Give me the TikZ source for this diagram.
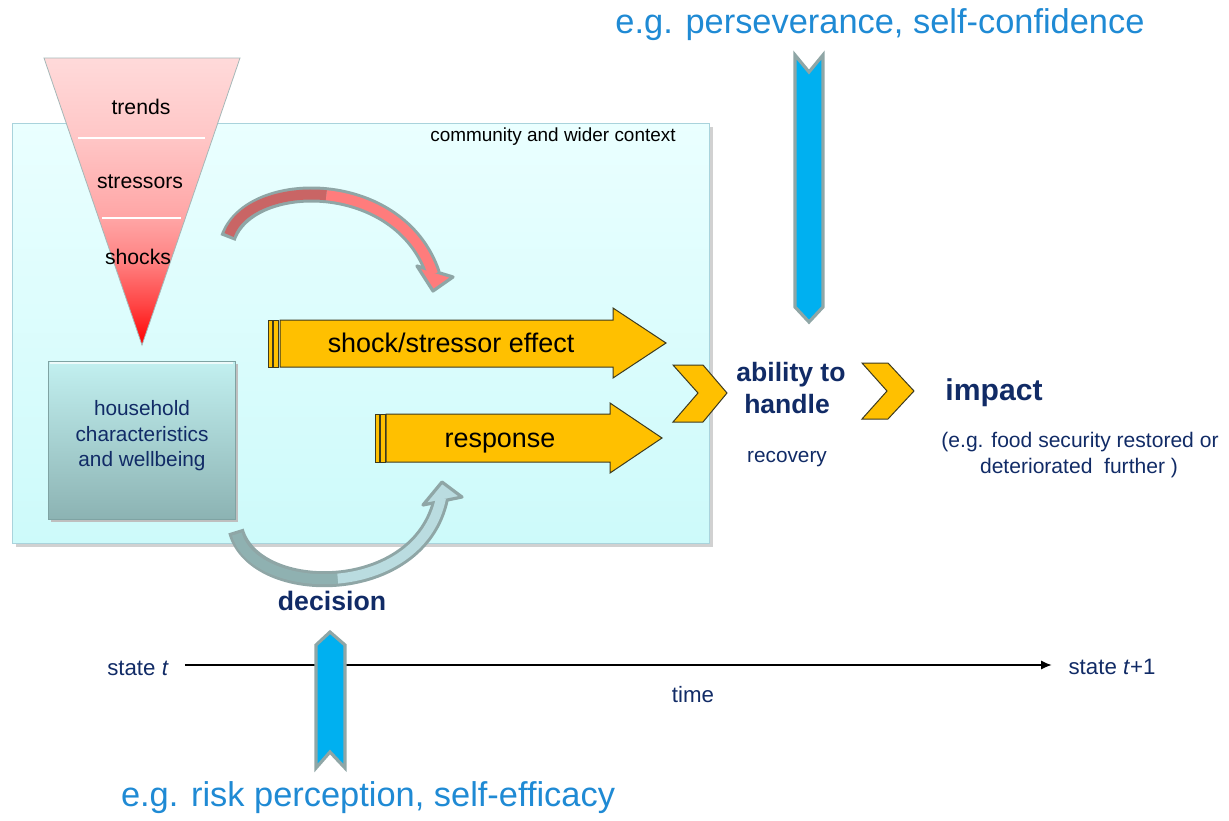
\documentclass[tikz,border=0pt]{standalone}
\usepackage{fontspec}
\setmainfont{Liberation Sans}
\usetikzlibrary{arrows.meta}
\definecolor{navy}{HTML}{112B66}
\definecolor{skyblue}{HTML}{1F8AD4}
\definecolor{gold}{HTML}{FFC000}
\definecolor{goldedge}{HTML}{3C3A20}
\definecolor{cyanfill}{HTML}{00B0F0}
\definecolor{slate}{HTML}{8FA6A6}
\definecolor{ctxtop}{HTML}{EAFFFF}
\definecolor{ctxbot}{HTML}{CDFAFA}
\definecolor{ctxedge}{HTML}{A9D3DC}
\definecolor{redA}{HTML}{C96565}
\definecolor{redB}{HTML}{FF7C7C}
\definecolor{tealA}{HTML}{8FB1B1}
\definecolor{tealB}{HTML}{BADCE0}
\definecolor{hhtop}{HTML}{C2F0F0}
\definecolor{hhbot}{HTML}{8CB3B3}
\definecolor{hhedge}{HTML}{7FA3A3}
% funnel colours, from the apex (25bp) up to the rim (75bp)
\pgfdeclareverticalshading{funnelshade}{100bp}{%
  color(0bp)=(red); color(25bp)=(red);
  color(32bp)=(rgb,255:red,255;green,69;blue,69);
  color(40bp)=(rgb,255:red,255;green,132;blue,132);
  color(47bp)=(rgb,255:red,255;green,165;blue,165);
  color(61bp)=(rgb,255:red,255;green,198;blue,198);
  color(75bp)=(rgb,255:red,255;green,218;blue,218);
  color(100bp)=(rgb,255:red,255;green,218;blue,218)}
\newcommand\setfs[2]{\fontsize{#1}{#2}\selectfont}
\tikzset{
  orangearrow/.style={fill=gold, draw=goldedge, line width=0.75pt, line join=miter},
  bluearrow/.style={fill=cyanfill, draw=slate, line width=2.4pt, line join=miter},
  bandout/.style={draw=slate, line width=12pt},
  bandin/.style={line width=7.5pt},
  headstyle/.style={draw=slate, line width=2.4pt, line join=round},
  blacklabel/.style={inner sep=0pt, text=black, align=center, anchor=base},
  navylabel/.style={inner sep=0pt, text=navy, align=center, anchor=base},
  bluelabel/.style={inner sep=0pt, text=skyblue, font=\setfs{25.8pt}{30pt}},
}
\begin{document}
\begin{tikzpicture}[x=0.75pt,y=-0.75pt]
\useasboundingbox (0,0) rectangle (1229,821);

% community and wider context panel
\fill[black!18] (16,127) rectangle (713,547);
\shade[top color=ctxtop, bottom color=ctxbot, draw=ctxedge, line width=0.75pt]
  (12,123) rectangle (709,543);
\node[blacklabel, font=\setfs{14.2pt}{17pt}] (ctx) at (553,141) {community and wider context};

% funnel of trends, stressors and shocks
\shade[shading=funnelshade, draw=slate!80, line width=0.6pt]
  (44,58) -- (240,58) -- (142,345) -- cycle;
\draw[white, line width=1.5pt] (78,138) -- (205,138);
\draw[white, line width=1.5pt] (102,218) -- (181,218);
\node[blacklabel, font=\setfs{15.9pt}{19pt}] (trends) at (141,114) {trends};
\node[blacklabel, font=\setfs{15.9pt}{19pt}] (stressors) at (140,188) {stressors};
\node[blacklabel, font=\setfs{15.9pt}{19pt}] (shocks) at (138,264) {shocks};

% household box
\fill[black!25] (51,364) rectangle (238,522);
\shade[top color=hhtop, bottom color=hhbot, draw=hhedge, line width=0.75pt]
  (48,361) rectangle (235,519);
\draw[white!70!hhtop, line width=1.2pt] (50,363) -- (233,363);
\node[navylabel, font=\setfs{15.6pt}{19.5pt}] (hh1) at (142,415) {household};
\node[navylabel, font=\setfs{15.6pt}{19.5pt}] (hh2) at (142,441) {characteristics};
\node[navylabel, font=\setfs{15.6pt}{19.5pt}] (hh3) at (142,466) {and wellbeing};

% curved arrow from the funnel towards the effect arrow
\draw[bandout] (228,238) .. controls (250,175) and (400,175) .. (433,274);
\draw[headstyle, fill=redB] (417,266) -- (433,291) -- (453,277) -- cycle;
\draw[bandin, draw=redA, shorten <=2.4pt] (228,238) .. controls (239,206.5) and (282,190.75) .. (326.4,195.25);
\draw[bandin, draw=redB] (326.4,195.25) .. controls (370.75,199.75) and (416.5,224.5) .. (433,274);

% shock/stressor effect arrow
\draw[orangearrow] (268,320) rectangle (272,367);
\draw[orangearrow] (273,320) rectangle (278,367);
\draw[orangearrow] (280,320) -- (613,320) -- (613,308) -- (666,343) -- (613,378) -- (613,367) -- (280,367) -- cycle;
\node[blacklabel, font=\setfs{20.2pt}{24pt}] (effect) at (451,352) {shock/stressor effect};

% response arrow
\draw[orangearrow] (375,414) rectangle (379,462);
\draw[orangearrow] (380,414) rectangle (385,462);
\draw[orangearrow] (386,414) -- (610,414) -- (610,403) -- (662,438) -- (610,473) -- (610,462) -- (386,462) -- cycle;
\node[blacklabel, font=\setfs{20.2pt}{24pt}] (response) at (500,447) {response};

% chevrons
\draw[orangearrow] (673,365) -- (703,365) -- (727,393) -- (703,422) -- (673,422) -- (698,393) -- cycle;
\draw[orangearrow] (862,363) -- (888,363) -- (914,391) -- (888,419) -- (862,419) -- (887,391) -- cycle;

% decision arrow
\draw[bandout] (236,531) .. controls (255,600) and (420,600) .. (441,498);
\draw[headstyle, fill=tealB] (423,505) -- (442,482) -- (462,497) -- cycle;
\draw[bandin, draw=tealA, shorten <=2.4pt] (236,531) .. controls (245.5,565.5) and (291.5,582.75) .. (337.75,578.6);
\draw[bandin, draw=tealB] (337.75,578.6) .. controls (384,574.5) and (430.5,549) .. (441,498);
\node[navylabel, font=\bfseries\setfs{20pt}{24pt}] (decision) at (332,610) {decision};

% labels right of the panel
\node[navylabel, font=\bfseries\setfs{19.9pt}{23.3pt}] (ability1) at (791,381) {ability to};
\node[navylabel, font=\bfseries\setfs{19.9pt}{23.3pt}] (ability2) at (787,413) {handle};
\node[navylabel, font=\setfs{15.6pt}{19pt}] (recovery) at (787,462) {recovery};
\node[navylabel, font=\bfseries\setfs{22.6pt}{27pt}] (impact) at (994,400) {impact};
\node[navylabel, font=\setfs{15.8pt}{19.5pt}] (note1) at (1080,447) {(e.g. food security restored or};
\node[navylabel, font=\setfs{15.8pt}{19.5pt}] (note2) at (1079,473) {deteriorated\ \ further )};

% time axis
\coordinate (axisy) at (0,665);
\node[navylabel, font=\setfs{16.7pt}{20pt}] (st) at (138,675) {state \textit{t}};
\node[navylabel, font=\setfs{16.7pt}{20pt}] (st1) at (1112,674) {state \textit{t}+1};
\draw[-{Latex[length=8pt,width=7pt]}, line width=1pt]
  ([xshift=12pt]st.east |- axisy) -- ([xshift=-12.5pt]st1.west |- axisy);
\node[navylabel, font=\setfs{16.7pt}{20pt}] (time) at (693,702) {time};

% vertical arrows of personal factors
\draw[bluearrow] (795,55) -- (809,72) -- (823,55) -- (823,307) -- (809,322) -- (795,307) -- cycle;
\draw[bluearrow] (316,645) -- (330,632) -- (345,645) -- (345,768) -- (330,752) -- (316,768) -- cycle;
\node[bluelabel] (persev) at (880,25) {e.g. perseverance, self-confidence};
\node[bluelabel] (riskp) at (368,798) {e.g. risk perception, self-efficacy};
\end{tikzpicture}
\end{document}
